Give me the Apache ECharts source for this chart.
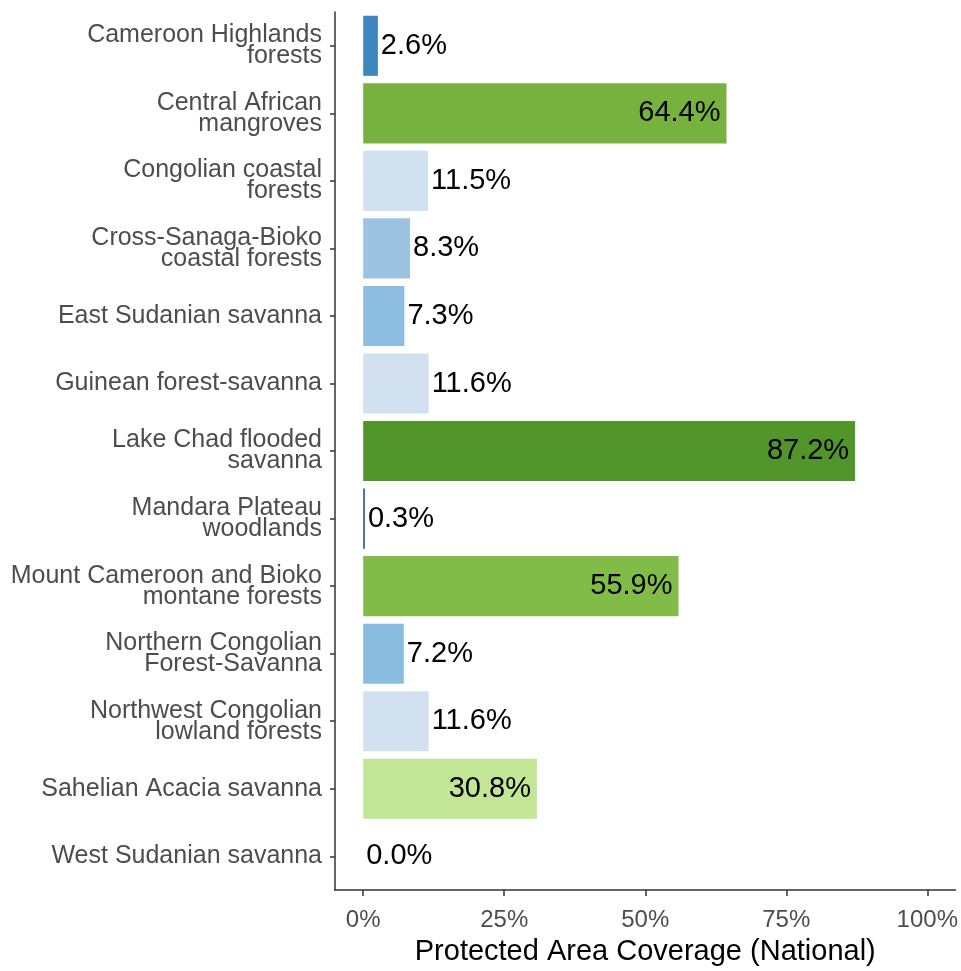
<!DOCTYPE html>
<html>
<head>
<meta charset="utf-8">
<script src="https://cdn.jsdelivr.net/npm/echarts@6/dist/echarts.min.js"></script>
<style>
  html, body { margin: 0; padding: 0; background: #fff; }
  #chart { width: 961px; height: 971px; }
</style>
</head>
<body>
<div id="chart"></div>
<script>
// ecoregions, top to bottom
const ecoregions = [
  'Cameroon Highlands\nforests',
  'Central African\nmangroves',
  'Congolian coastal\nforests',
  'Cross-Sanaga-Bioko\ncoastal forests',
  'East Sudanian savanna',
  'Guinean forest-savanna',
  'Lake Chad flooded\nsavanna',
  'Mandara Plateau\nwoodlands',
  'Mount Cameroon and Bioko\nmontane forests',
  'Northern Congolian\nForest-Savanna',
  'Northwest Congolian\nlowland forests',
  'Sahelian Acacia savanna',
  'West Sudanian savanna'
];
const coverage = [2.6, 64.4, 11.5, 8.3, 7.3, 11.6, 87.2, 0.3, 55.9, 7.2, 11.6, 30.8, 0.0];
const barColors = [
  '#3f86c1', '#78b23e', '#d1e1f0', '#9dc3e3', '#8dbde0', '#d1e1f0', '#52952a',
  '#2e5c99', '#82bc48', '#8abce0', '#d1e1f0', '#c3e596', '#d1e1f0'
];
const xTicks = [0, 25, 50, 75, 100];

// big bars get their label inside, small ones to the right
const INSIDE_FROM = 25;

const chart = echarts.init(document.getElementById('chart'));

const barData = coverage.map((v, i) => {
  const inside = v > INSIDE_FROM;
  return {
    value: v,
    itemStyle: { color: barColors[i] },
    label: {
      position: inside ? 'insideRight' : 'right',
      distance: inside ? 6 : 3
    }
  };
});

chart.setOption({
  animation: false,
  grid: { left: 335, right: 4, top: 12, bottom: 80 },
  xAxis: {
    type: 'value',
    min: -5,
    max: 105,
    splitLine: { show: false },
    axisLine: { show: true, onZero: false, lineStyle: { color: '#333', width: 1.5 } },
    axisTick: { show: true, length: 6, customValues: xTicks, lineStyle: { color: '#333', width: 1.5 } },
    axisLabel: {
      customValues: xTicks,
      formatter: v => v + '%',
      color: '#4d4d4d',
      fontFamily: 'Liberation Sans',
      fontSize: 24,
      margin: 18
    },
    name: 'Protected Area Coverage (National)',
    nameLocation: 'middle',
    nameGap: 45,
    nameTextStyle: { color: '#000', fontFamily: 'Liberation Sans', fontSize: 29 }
  },
  yAxis: {
    type: 'category',
    data: ecoregions,
    inverse: true,
    axisLine: { show: true, onZero: false, lineStyle: { color: '#333', width: 1.5 } },
    axisTick: { show: true, alignWithLabel: true, length: 5, lineStyle: { color: '#333', width: 1.5 } },
    axisLabel: {
      color: '#4d4d4d',
      fontFamily: 'Liberation Sans',
      fontSize: 25,
      lineHeight: 21,
      align: 'right',
      margin: 13
    }
  },
  series: [{
    type: 'bar',
    data: barData,
    barCategoryGap: '11%',
    label: {
      show: true,
      formatter: p => p.value.toFixed(1) + '%',
      color: '#000',
      fontFamily: 'Liberation Sans',
      fontSize: 29
    }
  }]
});
</script>
</body>
</html>
